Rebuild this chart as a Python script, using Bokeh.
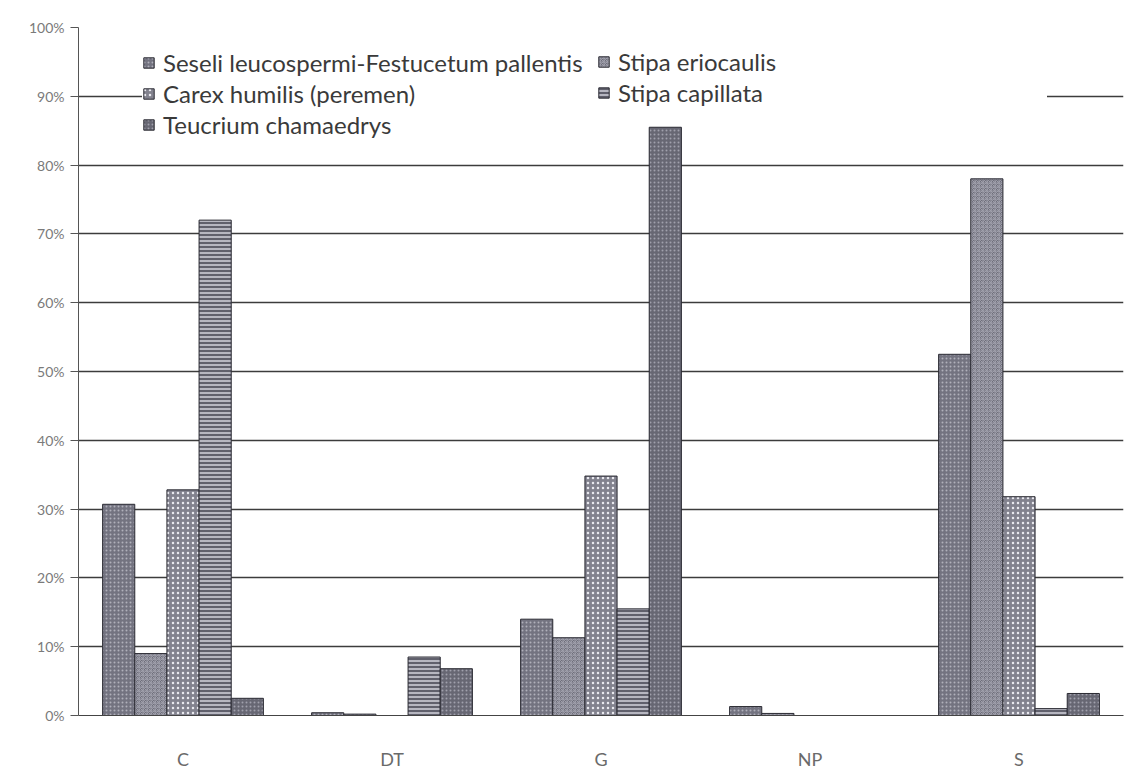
from bokeh.plotting import figure
from bokeh.models import (ColumnDataSource, FactorRange, Range1d, Legend, LegendItem,
                          PrintfTickFormatter, FixedTicker)
from bokeh.transform import dodge
from bokeh.embed import file_html
from bokeh.resources import INLINE

# Share of each species (%) by site
sites = ["C", "DT", "G", "NP", "S"]
seseli = [30.7, 0.4, 14.0, 1.3, 52.5]
stipa_eriocaulis = [9.0, 0.2, 11.3, 0.3, 78.0]
carex_humilis = [32.8, 0.0, 34.8, 0.0, 31.8]
stipa_capillata = [72.0, 8.5, 15.5, 0.0, 1.0]
teucrium = [2.5, 6.8, 85.5, 0.0, 3.2]

series_names = [
    "Seseli leucospermi-Festucetum pallentis",
    "Stipa eriocaulis",
    "Carex humilis (peremen)",
    "Stipa capillata",
    "Teucrium chamaedrys",
]
series_keys = ["seseli", "stipa_eriocaulis", "carex_humilis", "stipa_capillata", "teucrium"]
y_ticks = [0, 10, 20, 30, 40, 50, 60, 70, 80, 90, 100]

source = ColumnDataSource(dict(
    sites=sites,
    seseli=seseli,
    stipa_eriocaulis=stipa_eriocaulis,
    carex_humilis=carex_humilis,
    stipa_capillata=stipa_capillata,
    teucrium=teucrium,
))

p = figure(
    x_range=FactorRange(*sites),
    y_range=Range1d(0, 100),
    width=1125, height=772,
    output_backend="svg", toolbar_location=None,
    min_border_left=78, min_border_right=2, min_border_top=27, min_border_bottom=55,
    background_fill_color="white", border_fill_color="white",
)
p.outline_line_color = None

# grey, finely patterned fills in the style of a monochrome print
styles = [
    dict(fill_color="#737380", hatch_pattern="dot", hatch_color="#b0b0ba", hatch_scale=4, hatch_weight=1),
    dict(fill_color="#6e6e7a", hatch_pattern="criss_cross", hatch_color="#a0a0ac", hatch_scale=4, hatch_weight=1),
    dict(fill_color="#82828e", hatch_pattern="dot", hatch_color="#e8e8ee", hatch_scale=5, hatch_weight=1.5),
    dict(fill_color="#b6b6c0", hatch_pattern="horizontal_line", hatch_color="#4a4a56", hatch_scale=4, hatch_weight=1.6),
    dict(fill_color="#676773", hatch_pattern="dot", hatch_color="#a0a0ac", hatch_scale=4, hatch_weight=1),
]

bar_w = 1.0 / 6.5
renderers = []
for i, key in enumerate(series_keys):
    r = p.vbar(
        x=dodge("sites", (i - 2) * bar_w, range=p.x_range),
        top=key, width=bar_w, source=source,
        line_color="#2a2a32", line_width=1,
        **styles[i],
    )
    renderers.append(r)

legend_style = dict(
    orientation="vertical",
    background_fill_color="white", background_fill_alpha=1.0,
    border_line_color=None,
    label_text_font="Lato", label_text_font_size="24px", label_text_color="#3a3a3a",
    glyph_width=13, glyph_height=13, label_standoff=8,
    label_height=24, spacing=2, padding=6, margin=0,
)

# two-column legend: left column holds series 1, 3, 5; right column 2, 4
left_idx = [0, 2, 4]
right_idx = [1, 3]
legend_left = Legend(
    items=[LegendItem(label=series_names[i], renderers=[renderers[i]]) for i in left_idx],
    location=(64, 576), label_width=450, **legend_style,
)
legend_right = Legend(
    items=[LegendItem(label=series_names[i], renderers=[renderers[i]]) for i in right_idx],
    location=(519, 608), label_width=429, **legend_style,
)
p.add_layout(legend_left)
p.add_layout(legend_right)

# axes
p.yaxis.ticker = FixedTicker(ticks=y_ticks)
p.yaxis.formatter = PrintfTickFormatter(format="%d%%")
p.yaxis.axis_line_color = "#555555"
p.yaxis.major_tick_line_color = "#555555"
p.yaxis.major_tick_out = 8
p.yaxis.major_tick_in = 0
p.yaxis.minor_tick_line_color = None
p.yaxis.major_label_text_font = "Lato"
p.yaxis.major_label_text_font_size = "14px"
p.yaxis.major_label_text_color = "#7a7a7a"
p.yaxis.major_label_standoff = 6

p.xaxis.axis_line_color = "#444444"
p.xaxis.major_tick_line_color = None
p.xaxis.minor_tick_line_color = None
p.xaxis.major_label_text_font = "Lato"
p.xaxis.major_label_text_font_size = "18px"
p.xaxis.major_label_text_color = "#6a6a6a"
p.xaxis.major_label_standoff = 26

p.xgrid.grid_line_color = None
p.ygrid.ticker = FixedTicker(ticks=y_ticks)
p.ygrid.grid_line_color = "#3c3c3c"
p.ygrid.grid_line_width = 1.3

open("out.html", "w").write(file_html(p, INLINE))
